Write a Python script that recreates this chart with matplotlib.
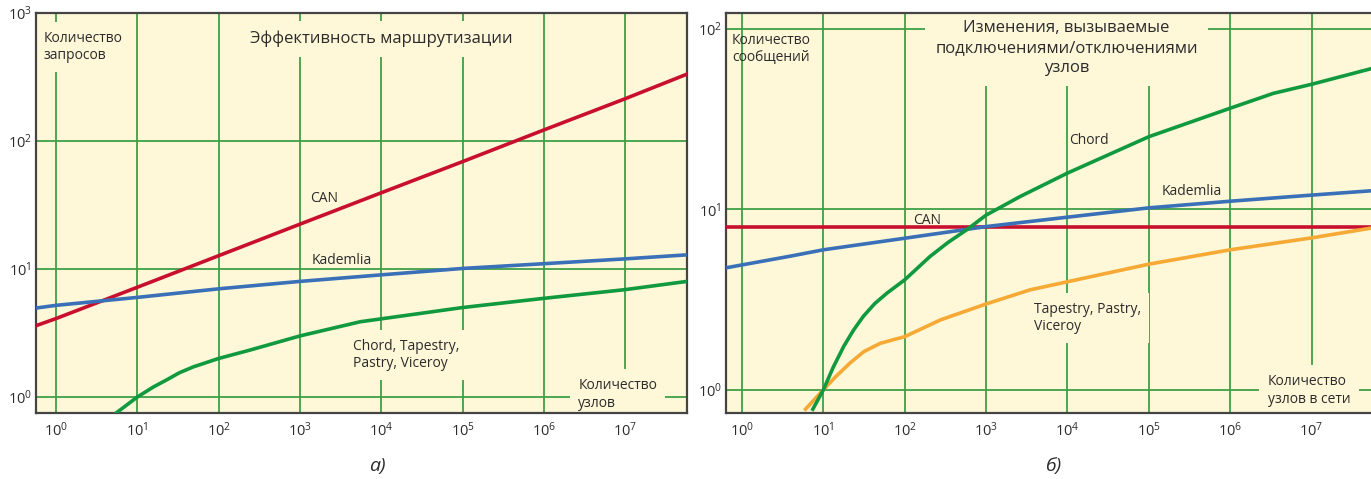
import matplotlib.pyplot as plt
import numpy as np
from matplotlib.ticker import FixedLocator, NullLocator

plt.rcParams["font.family"] = ["Open Sans", "DejaVu Sans"]
plt.rcParams["mathtext.fontset"] = "custom"
plt.rcParams["mathtext.rm"] = "Open Sans"

# --- panel a): routing efficiency ---
a_can_x = [10**-0.25, 1e0, 1e1, 1e2, 1e3, 1e4, 1e5, 1e6, 1e7, 10**7.76]
a_can_y = [3.6, 4.1, 7.2, 12.7, 22.4, 39.4, 69.0, 122.0, 214.0, 333.0]

a_kad_x = [10**-0.25, 1e0, 1e1, 1e2, 1e3, 1e4, 1e5, 1e6, 1e7, 10**7.76]
a_kad_y = [4.95, 5.2, 6.0, 7.0, 8.0, 9.0, 10.1, 11.0, 12.0, 12.9]

a_chord_x = [10**0.74, 1e1, 10**1.2, 10**1.36, 10**1.52, 10**1.69, 1e2, 10**2.39, 1e3,
             10**3.74, 1e5, 1e6, 1e7, 10**7.76]
a_chord_y = [0.75, 1.0, 1.2, 1.36, 1.55, 1.72, 2.0, 2.33, 3.0, 3.87, 5.0, 5.9, 6.9, 8.0]

# --- panel б): join/leave changes ---
b_can_x = [10**-0.2, 10**7.75]
b_can_y = [8.0, 8.0]

b_kad_x = [10**-0.2, 10**0.59, 1e1, 1e2, 1e3, 10**3.42, 1e5, 1e6, 1e7, 10**7.75]
b_kad_y = [4.74, 5.5, 5.97, 6.92, 8.03, 8.45, 10.2, 11.1, 12.0, 12.7]

b_chord_x = [10**0.87, 1e1, 10**1.12, 10**1.25, 10**1.37, 10**1.49, 10**1.63, 10**1.78,
             1e2, 10**2.15, 10**2.31, 10**2.53, 10**2.76, 1e3, 10**3.42, 1e4, 1e5, 1e6,
             10**6.53, 1e7, 10**7.75]
b_chord_y = [0.78, 1.0, 1.33, 1.74, 2.14, 2.55, 3.0, 3.43, 4.07, 4.7, 5.48, 6.55, 7.7, 9.3,
             11.8, 15.9, 25.3, 36.4, 44.0, 49.4, 60.6]

b_tap_x = [10**0.78, 1e1, 10**1.15, 10**1.33, 10**1.5, 10**1.7, 1e2, 10**2.44, 1e3,
           10**3.54, 1e5, 1e6, 1e7, 10**7.75]
b_tap_y = [0.78, 1.0, 1.18, 1.41, 1.63, 1.81, 1.97, 2.44, 2.99, 3.58, 4.97, 5.97, 6.95, 7.9]

x_decades = [1e0, 1e1, 1e2, 1e3, 1e4, 1e5, 1e6, 1e7]
a_y_decades = [1e0, 1e1, 1e2, 1e3]
b_y_decades = [1e0, 1e1, 1e2]

BG = "#fef8d8"
GRID = "#3f9f45"
TEXT = "#2b2b2b"
RED = "#c8102e"
BLUE = "#3a70b8"
GREEN = "#10993f"
ORANGE = "#f6a934"


def setup_axes(ax, xlim, ylim, yticks):
    ax.set_xscale("log")
    ax.set_yscale("log")
    ax.set_xlim(*xlim)
    ax.set_ylim(*ylim)
    ax.set_facecolor(BG)
    ax.xaxis.set_major_locator(FixedLocator(x_decades))
    ax.yaxis.set_major_locator(FixedLocator(yticks))
    ax.xaxis.set_minor_locator(NullLocator())
    ax.yaxis.set_minor_locator(NullLocator())
    ax.grid(True, which="major", color=GRID, linewidth=1.3)
    ax.set_axisbelow(True)
    ax.tick_params(length=0, labelsize=10.5, colors=TEXT)
    ax.tick_params(axis="x", pad=6)
    ax.tick_params(axis="y", pad=3)
    for s in ax.spines.values():
        s.set_color("#444444")
        s.set_linewidth(1.6)


def label(ax, x, y, s, size=10, ha="left", box=True, ls=1.25):
    # boxes in background colour cut the grid lines behind the text
    bbox = dict(facecolor=BG, edgecolor="none", boxstyle="square,pad=0.6") if box else None
    t = ax.text(x, y, s, transform=ax.transAxes, fontsize=size, color=TEXT, ha=ha,
                va="center", linespacing=ls, bbox=bbox, zorder=2)
    t.set_clip_box(ax.bbox)
    t.set_clip_on(True)


fig = plt.figure(figsize=(13.71, 4.79), dpi=100)
ax1 = fig.add_axes([36 / 1371, 1 - 413 / 479, 651 / 1371, 400 / 479])
ax2 = fig.add_axes([726 / 1371, 1 - 413 / 479, 645 / 1371, 400 / 479])

# panel a
setup_axes(ax1, (10**-0.246, 10**7.76), (10**-0.125, 1e3), a_y_decades)
ax1.plot(a_can_x, a_can_y, color=RED, lw=2.6, zorder=4)
ax1.plot(a_kad_x, a_kad_y, color=BLUE, lw=2.6, zorder=4)
ax1.plot(a_chord_x, a_chord_y, color=GREEN, lw=2.6, zorder=4)
label(ax1, 0.012, 0.915, "Количество\nзапросов")
label(ax1, 0.53, 0.935, "Эффективность маршрутизации", size=12, ha="center")
label(ax1, 0.443, 0.537, "CAN", box=False, ha="center")
label(ax1, 0.4689, 0.38, "Kademlia", box=False, ha="center")
label(ax1, 0.487, 0.145, "Chord, Tapestry,\nPastry, Viceroy")
label(ax1, 0.833, 0.047, "Количество\nузлов")
fig.text(377 / 1371, 1 - 466 / 479, "а)", fontsize=14, style="italic", color=TEXT,
         ha="center", va="center")

# panel б
setup_axes(ax2, (10**-0.197, 10**7.73), (10**-0.129, 10**2.089), b_y_decades)
ax2.spines["right"].set_visible(False)
ax2.plot(b_can_x, b_can_y, color=RED, lw=2.6, zorder=4)
ax2.plot(b_kad_x, b_kad_y, color=BLUE, lw=2.6, zorder=4)
ax2.plot(b_tap_x, b_tap_y, color=ORANGE, lw=2.6, zorder=4)
ax2.plot(b_chord_x, b_chord_y, color=GREEN, lw=2.6, zorder=4)
label(ax2, 0.009, 0.91, "Количество\nсообщений", box=False)
label(ax2, 0.528, 0.912, "Изменения, вызываемые\nподключениями/отключениями\nузлов", size=12,
      ha="center", ls=1.35)
label(ax2, 0.532, 0.682, "Chord", box=False)
label(ax2, 0.675, 0.553, "Kademlia", box=False)
label(ax2, 0.29, 0.48, "CAN", box=False)
label(ax2, 0.477, 0.2375, "Tapestry, Pastry,\nViceroy")
label(ax2, 0.84, 0.057, "Количество\nузлов в сети")
fig.text(1053 / 1371, 1 - 466 / 479, "б)", fontsize=14, style="italic", color=TEXT,
         ha="center", va="center")

fig.savefig("out.png", dpi=100)
